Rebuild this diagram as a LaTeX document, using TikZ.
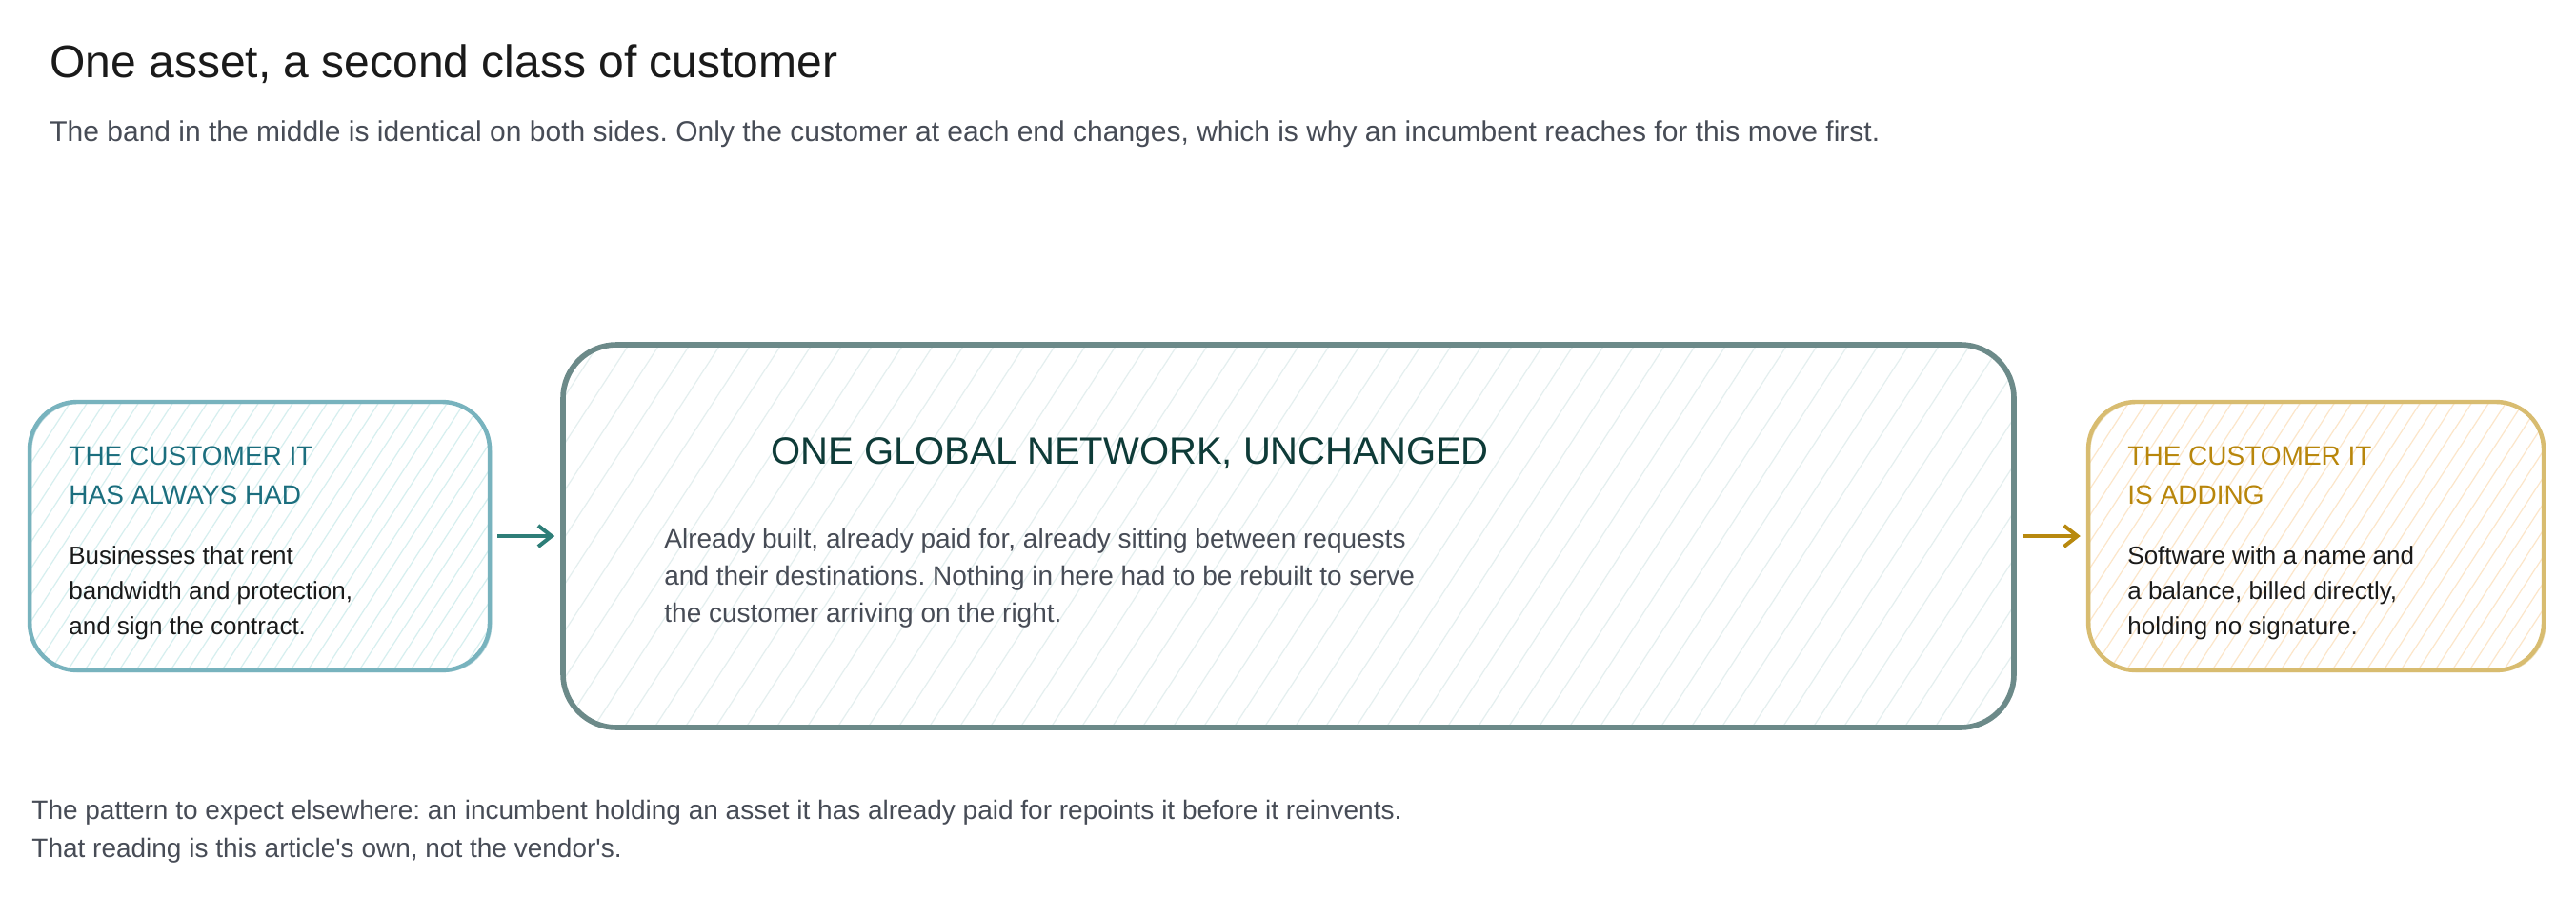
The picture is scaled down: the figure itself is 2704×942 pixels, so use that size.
\documentclass[tikz,border=0pt]{standalone}
\usepackage{fontspec}
\setmainfont{Liberation Sans}
\newfontfamily\plainsans{Liberation Sans}
\usetikzlibrary{arrows.meta,positioning,calc}

\definecolor{inkdark}{HTML}{1A1A1A}
\definecolor{inkgray}{HTML}{474C56}
\definecolor{oldedge}{HTML}{78B3BE}
\definecolor{oldhead}{HTML}{1B6E7E}
\definecolor{oldhatch}{HTML}{D6EFEF}
\definecolor{netedge}{HTML}{6C8A89}
\definecolor{nethead}{HTML}{0E3B38}
\definecolor{nethatch}{HTML}{E4EFEF}
\definecolor{newedge}{HTML}{D8BC70}
\definecolor{newhead}{HTML}{B8860B}
\definecolor{newhatch}{HTML}{FCE6CA}
\definecolor{tealarrow}{HTML}{2E7E78}
\definecolor{goldarrow}{HTML}{B8890F}

\tikzset{
  hatch/.style 2 args={path picture={
    \foreach \k in {0,...,90}
      \draw[#1,line width=0.6pt]
        ([xshift=\k*#2-160pt]path picture bounding box.south west) -- ++(57:480pt);
  }},
  card/.style={draw=#1,rounded corners=25pt,line width=2.2pt,inner sep=0pt,
    postaction={draw=#1,line width=0.7pt,opacity=0.5,
      transform canvas={shift={(0.9pt,-0.7pt)}}}},
  head/.style={font=\fontsize{14}{20.5}\selectfont,anchor=base west,inner sep=0pt},
  body/.style={font=\fontsize{13}{18.5}\selectfont,anchor=base west,inner sep=0pt,text=inkdark},
  prose/.style={font=\fontsize{#1}{#1}\selectfont,anchor=base west,inner sep=0pt,text=inkgray},
  flow/.style={draw=#1,line width=2pt,-{Straight Barb[length=7pt,width=11pt]},
    shorten <=3pt,shorten >=3pt}
}

\begin{document}
\frenchspacing
\begin{tikzpicture}[x=0.5pt,y=-0.5pt]

  \path[fill=white,use as bounding box] (0,0) rectangle (2704,942);

  \node[anchor=base west,inner sep=0pt,text=inkdark,font=\fontsize{24}{28}\selectfont]
    (title) at (52,81) {One asset, a second class of customer};
  \node[prose=15] (lede) at (52,148) {The band in the middle is identical on both sides. Only the customer at each end changes, which is why an incumbent reaches for this move first.};

  \node[card=oldedge,hatch={oldhatch}{9pt},minimum width=241.5pt,minimum height=141pt]
    (old) at (272.5,563) {};
  \node[card=netedge,line width=2.8pt,rounded corners=28pt,hatch={nethatch}{16pt},
    minimum width=761.5pt,minimum height=201pt] (net) at (1352.5,563) {};
  \node[card=newedge,hatch={newhatch}{9pt},minimum width=239pt,minimum height=141pt]
    (new) at (2431,563) {};

  \foreach \txt [count=\i] in {THE CUSTOMER IT,HAS ALWAYS HAD}
    \node[head,text=oldhead] (oldtitle\i) at (72,447+41*\i) {\txt};
  \foreach \txt [count=\i] in {Businesses that rent,{bandwidth and protection,},and sign the contract.}
    \node[body] (oldtext\i) at (72,555+37*\i) {\txt};

  \node[anchor=base west,inner sep=0pt,text=nethead,font=\fontsize{20}{24}\selectfont]
    (nettitle) at (809,487) {ONE GLOBAL NETWORK, UNCHANGED};
  \foreach \txt [count=\i] in {{Already built, already paid for, already sitting between requests},
      and their destinations. Nothing in here had to be rebuilt to serve,
      the customer arriving on the right.}
    \node[prose=14] (nettext\i) at (697,536+39*\i) {\txt};

  \foreach \txt [count=\i] in {THE CUSTOMER IT,IS ADDING}
    \node[head,text=newhead] (newtitle\i) at (2233,447+41*\i) {\txt};
  \foreach \txt [count=\i] in {Software with a name and,{a balance, billed directly,},holding no signature.}
    \node[body] (newtext\i) at (2233,555+37*\i) {\txt};

  \draw[flow=tealarrow] (old) -- (net);
  \draw[flow=goldarrow] (net) -- (new);

  \foreach \txt [count=\i] in {The pattern to expect elsewhere: an incumbent holding an asset it has already paid for repoints it before it reinvents.,
      {That reading is this article's own, not the vendor's.}}
    \node[prose=14,font={\plainsans\fontsize{14}{14}\selectfont}] (coda\i) at (33,820+40*\i) {\txt};

\end{tikzpicture}
\end{document}
